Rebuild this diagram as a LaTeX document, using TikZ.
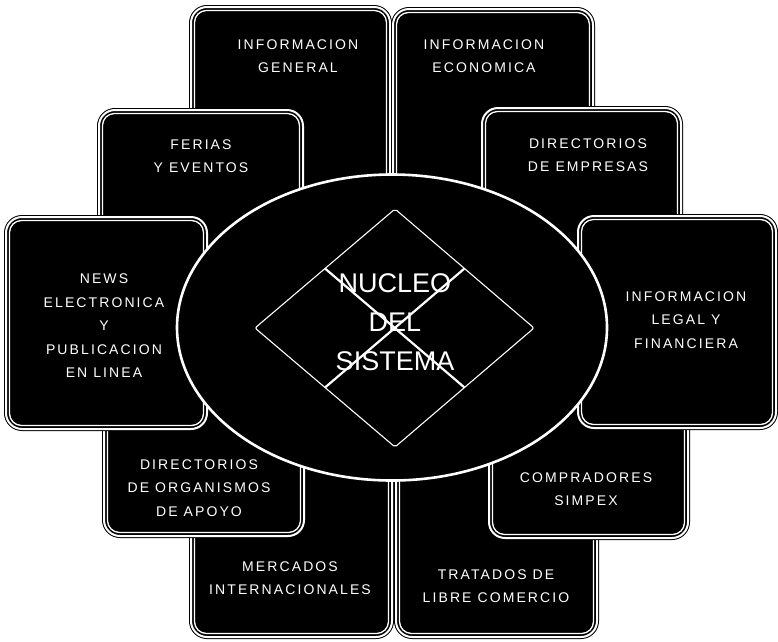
\documentclass[tikz,border=0pt]{standalone}
\usepackage{fontspec}
\setmainfont{Liberation Sans}
\usetikzlibrary{calc}

\tikzset{
  panelout/.style={draw=black, line width=1pt, double=white, double distance=2pt, fill=black, rounded corners=16pt},
  panelin/.style={draw=white, line width=1.3pt, fill=black, rounded corners=12pt},
  boxtext/.style={text=white, align=center, inner sep=0pt,
    font=\fontsize{14}{23.5}\selectfont\addfontfeature{LetterSpace=15}},
  coretext/.style={text=white, align=center, inner sep=0pt,
    font=\fontsize{27}{39}\selectfont},
  core/.style={draw=white, line width=2.6pt, fill=black},
  rim/.style={draw=white, line width=1.1pt, rounded corners=2pt},
  cross/.style={draw=white, line width=2.2pt},
}
% one framed panel: left, top, right, bottom
\newcommand\panel[4]{%
  \draw[panelout] (#1,#2) rectangle (#3,#4);
  \draw[panelin] (#1+3.5,#2+3.5) rectangle (#3-3.5,#4-3.5);
}

\begin{document}
\begin{tikzpicture}[x=1pt,y=-1pt]
  \useasboundingbox[fill=white] (0,0) rectangle (778,641);

  % long panels, top and bottom
  \panel{191}{7}{390}{330}
  \panel{393}{9}{593}{330}
  \panel{191}{340}{392}{637}
  \panel{396}{340}{597}{637}

  % middle panels
  \panel{99}{110}{303}{300}
  \panel{482}{108}{681}{300}
  \panel{104}{350}{304}{536}
  \panel{489}{350}{688}{538}

  % side panels
  \panel{6}{217}{207}{429}
  \panel{578}{216}{776}{428}

  % core of the system
  \draw[core] (392,327.5) ellipse [x radius=215pt, y radius=153pt];
  \coordinate (dt) at (395,209);
  \coordinate (dr) at (534,328);
  \coordinate (db) at (395,447);
  \coordinate (dl) at (255,328);
  \draw[rim] (dt) -- (dr) -- (db) -- (dl) -- cycle;
  \draw[cross] ($(dt)!.5!(dl)$) -- ($(db)!.5!(dr)$);
  \draw[cross] ($(dt)!.5!(dr)$) -- ($(db)!.5!(dl)$);
  \node[coretext] (nucleo) at (395,322) {NUCLEO\\DEL\\SISTEMA};

  \node[boxtext] (infgen) at (298,56) {INFORMACION\\GENERAL};
  \node[boxtext] (infeco) at (484,56) {INFORMACION\\ECONOMICA};
  \node[boxtext] (ferias) at (201,156) {FERIAS\\Y EVENTOS};
  \node[boxtext] (diremp) at (588,155) {DIRECTORIOS\\DE EMPRESAS};
  \node[boxtext] (news) at (104,326) {NEWS\\ELECTRONICA\\Y\\PUBLICACION\\EN LINEA};
  \node[boxtext] (legal) at (686,320) {INFORMACION\\LEGAL Y\\FINANCIERA};
  \node[boxtext] (dirorg) at (199,488) {DIRECTORIOS\\DE ORGANISMOS\\DE APOYO};
  \node[boxtext] (compra) at (586,489) {COMPRADORES\\SIMPEX};
  \node[boxtext] (mercados) at (290,578) {MERCADOS\\INTERNACIONALES};
  \node[boxtext] (tratados) at (496,586) {TRATADOS DE\\LIBRE COMERCIO};
\end{tikzpicture}
\end{document}
